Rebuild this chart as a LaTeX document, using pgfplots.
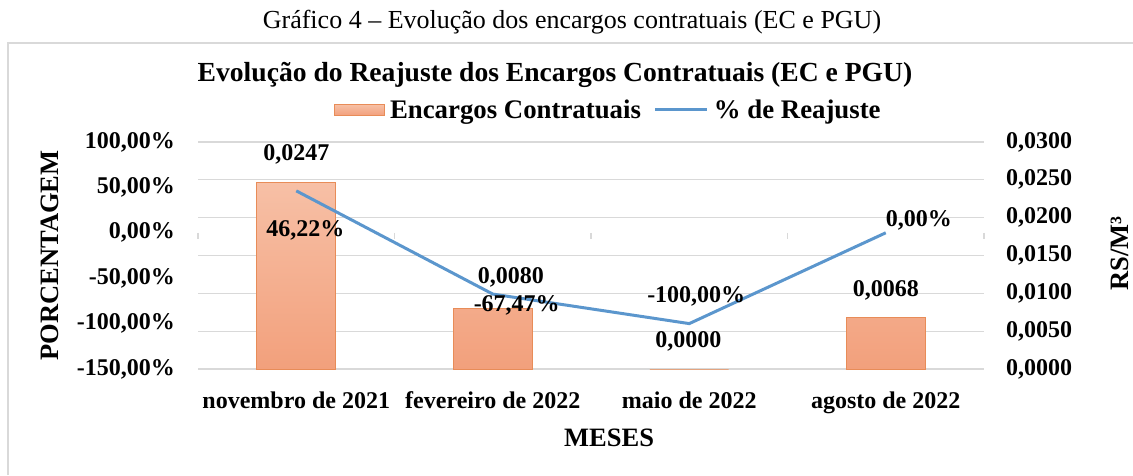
\documentclass[border=0pt]{standalone}
\usepackage{pgfplots}
\pgfplotsset{compat=1.18}
\usepackage{fontspec}
\setmainfont{Liberation Serif}
\definecolor{barTop}{RGB}{247,192,166}
\definecolor{barBot}{RGB}{242,160,124}
\definecolor{barEdge}{RGB}{232,140,88}
\definecolor{lineBlue}{RGB}{91,150,205}
\definecolor{gridGray}{RGB}{217,217,217}
\newcommand{\fsTick}{\fontsize{24}{28}\selectfont\bfseries}
\newcommand{\fsLab}{\fontsize{26.5}{31}\selectfont\bfseries}
\begin{document}
\begin{tikzpicture}
\path[use as bounding box] (0,0) rectangle (1133pt,475pt);
% frame and caption
\draw[gridGray, line width=1.5pt] (8pt,0pt) -- (8pt,432pt) -- (1133pt,432pt);
\node[font=\fontsize{26}{30}\selectfont] at (572pt,453pt) {Gráfico 4 – Evolução dos encargos contratuais (EC e PGU)};
\node[font=\fontsize{27.6}{32}\selectfont\bfseries] at (555pt,400pt) {Evolução do Reajuste dos Encargos Contratuais (EC e PGU)};
% bars on right axis
\begin{axis}[
  at={(198pt,106pt)}, anchor=south west,
  scale only axis, width=786pt, height=227pt,
  xmin=-0.5, xmax=3.5,
  ymin=0, ymax=0.03,
  scaled y ticks=false,
  axis y line*=right,
  axis x line*=bottom,
  axis line style={draw=none},
  tick style={draw=none},
  xtick={0,1,2,3},
  xticklabels={novembro de 2021, fevereiro de 2022, maio de 2022, agosto de 2022},
  xticklabel style={font=\fsTick, anchor=base, inner sep=0pt, yshift=-39pt},
  ytick={0,0.005,0.01,0.015,0.02,0.025,0.03},
  yticklabels={{0,0000},{0,0050},{0,0100},{0,0150},{0,0200},{0,0250},{0,0300}},
  yticklabel style={font=\fsTick, anchor=west, inner sep=0pt, xshift=22pt},
  ymajorgrids,
  major grid style={gridGray, line width=1.2pt},
  xlabel={MESES},
  xlabel style={font=\fsLab, at={(axis description cs:0.523,-0.34)}, anchor=base, inner sep=0pt},
  ylabel={RS/M³},
  ylabel style={font=\fsLab, at={(axis description cs:1.173,0.51)}, anchor=center},
  bar width=0.4,
  point meta=explicit symbolic,
  visualization depends on={value \thisrow{dx} \as \dx},
  visualization depends on={value \thisrow{dy} \as \dy},
  nodes near coords={\pgfplotspointmeta},
  nodes near coords style={font=\fsTick, anchor=center, inner sep=0pt, xshift=\dx pt, yshift=\dy pt},
]
\addplot[ybar, draw=barEdge, line width=1pt, top color=barTop, bottom color=barBot]
  table[x=x, y=y, meta=lab] {
x y lab dx dy
0 0.0247 0,0247 0 28
1 0.0080 0,0080 18 31
2 0.0000 0,0000 -1 28
3 0.0068 0,0068 0 27
};
\end{axis}
% line on left axis
\begin{axis}[
  at={(198pt,106pt)}, anchor=south west,
  scale only axis, width=786pt, height=227pt,
  xmin=-0.5, xmax=3.5,
  ymin=-150, ymax=100,
  axis y line*=left,
  hide x axis,
  axis line style={draw=none},
  tick style={draw=none},
  ytick={-150,-100,-50,0,50,100},
  yticklabels={{-150,00\%},{-100,00\%},{-50,00\%},{0,00\%},{50,00\%},{100,00\%}},
  yticklabel style={font=\fsTick, anchor=east, inner sep=0pt, xshift=-23pt},
  ylabel={PORCENTAGEM},
  ylabel style={font=\fsLab, at={(axis description cs:-0.188,0.5)}, anchor=center},
  legend style={at={(axis description cs:0.524,1.141)}, anchor=center, draw=none, fill=none,
    legend columns=2, font=\fontsize{26.8}{31}\selectfont\bfseries,
    /tikz/every even column/.append style={column sep=8pt},
    nodes={inner xsep=5pt},
    legend cell align=left},
  point meta=explicit symbolic,
  visualization depends on={value \thisrow{dx} \as \dx},
  visualization depends on={value \thisrow{dy} \as \dy},
  clip=false,
]
\pgfplotsinvokeforeach{-0.5,0.5,1.5,2.5,3.5}{
  \draw[gridGray, line width=1.2pt] (axis cs:#1,0) -- ++(0pt,-6pt);
}
\addlegendimage{legend image code/.code={\draw[draw=barEdge, line width=1pt, top color=barTop, bottom color=barBot] (0pt,-5.5pt) rectangle (50pt,5.5pt);}}
\addlegendentry{Encargos Contratuais}
\addplot[lineBlue, line width=3pt, mark=none,
  legend image code/.code={\draw[lineBlue, line width=3pt] (0pt,0pt) -- (52pt,0pt);},
  nodes near coords={\pgfplotspointmeta\%},
  nodes near coords style={font=\fsTick, text=black, anchor=center, inner sep=0pt, xshift=\dx pt, yshift=\dy pt}]
  table[x=x, y=y, meta=lab] {
x y lab dx dy
0 46.22 46,22 9 -40
1 -67.47 -67,47 24 -11
2 -100.00 -100,00 7 27
3 0.00 0,00 33 12
};
\addlegendentry{\% de Reajuste}
\end{axis}
\end{tikzpicture}
\end{document}
